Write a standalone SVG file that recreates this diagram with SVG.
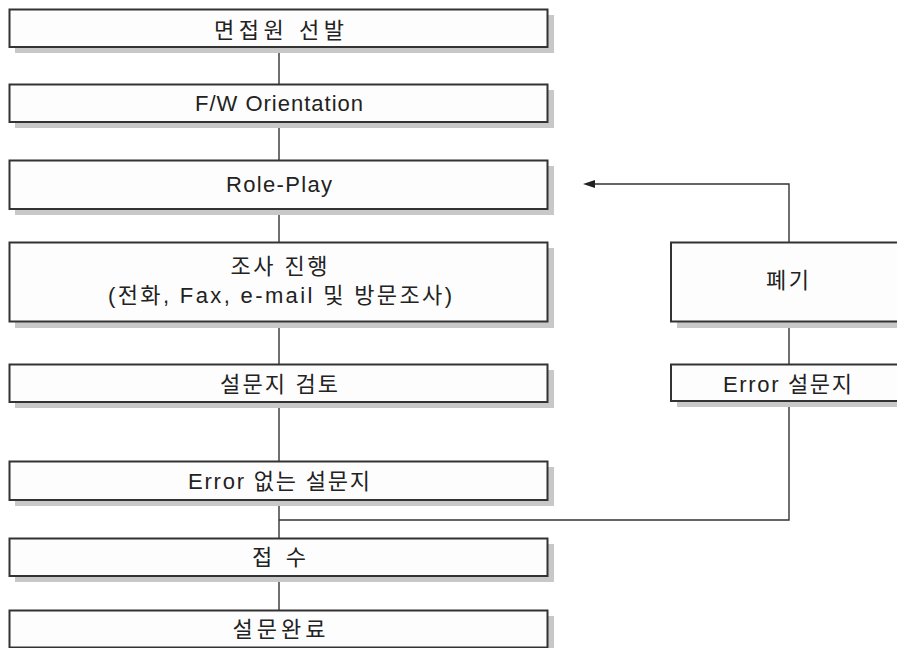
<svg xmlns="http://www.w3.org/2000/svg" width="897" height="648" viewBox="0 0 897 648">
<style>
.sh{fill:#c8c8c8}
.bx{fill:#fdfdfd;stroke:#333;stroke-width:2}
.t{font-family:"Liberation Sans","Noto Sans CJK KR",sans-serif;font-size:22px;fill:#222;text-anchor:middle}
.ln{fill:none;stroke:#333;stroke-width:1.4}
</style>
<g id="connectors">
<line class="ln" x1="279" y1="47" x2="279" y2="84"/>
<line class="ln" x1="279" y1="122" x2="279" y2="160"/>
<line class="ln" x1="279" y1="209" x2="279" y2="242"/>
<line class="ln" x1="279" y1="322" x2="279" y2="364"/>
<line class="ln" x1="279" y1="402" x2="279" y2="461"/>
<line class="ln" x1="279" y1="500" x2="279" y2="538"/>
<line class="ln" x1="279" y1="576" x2="279" y2="610"/>
<line class="ln" x1="789" y1="322" x2="789" y2="364"/>
<polyline class="ln" points="789,401 789,520 279,520"/>
<polyline class="ln" points="789,242 789,184 594,184"/>
<path d="M583,184 L595,180 L595,188 Z" fill="#222"/>
</g>
<g id="n1"><rect class="sh" x="15" y="15" width="539" height="38"/><rect class="bx" x="9.5" y="9.5" width="538" height="37.5"/><text class="t" x="279" y="37.5" textLength="130" lengthAdjust="spacing">면접원 선발</text></g>
<g id="n2"><rect class="sh" x="15" y="90" width="539" height="38"/><rect class="bx" x="9.5" y="84.5" width="538" height="37.5"/><text class="t" x="279" y="111" textLength="168" lengthAdjust="spacing">F/W Orientation</text></g>
<g id="n3"><rect class="sh" x="15" y="166" width="539" height="49"/><rect class="bx" x="9.5" y="160.5" width="538" height="48.5"/><text class="t" x="279" y="192" textLength="106" lengthAdjust="spacing">Role-Play</text></g>
<g id="n4"><rect class="sh" x="15" y="248" width="539" height="80"/><rect class="bx" x="9.5" y="242.5" width="538" height="79"/><text class="t" x="279" y="273.5" textLength="97" lengthAdjust="spacing">조사 진행</text><text class="t" x="280" y="302.5" textLength="344" lengthAdjust="spacing">(전화, Fax, e-mail 및 방문조사)</text></g>
<g id="n5"><rect class="sh" x="15" y="370" width="539" height="38"/><rect class="bx" x="9.5" y="364.5" width="538" height="37.5"/><text class="t" x="279" y="391.5" textLength="118" lengthAdjust="spacing">설문지 검토</text></g>
<g id="n6"><rect class="sh" x="15" y="467" width="539" height="39"/><rect class="bx" x="9.5" y="461.5" width="538" height="38.5"/><text class="t" x="279" y="488.5" textLength="182" lengthAdjust="spacing">Error 없는 설문지</text></g>
<g id="n7"><rect class="sh" x="15" y="544" width="539" height="38"/><rect class="bx" x="9.5" y="538.5" width="538" height="37.5"/><text class="t" x="279" y="565" textLength="54" lengthAdjust="spacing">접수</text></g>
<g id="n8"><rect class="sh" x="15" y="616" width="539" height="38"/><rect class="bx" x="9.5" y="610.5" width="538" height="37"/><text class="t" x="279" y="636.5" textLength="93" lengthAdjust="spacing">설문완료</text></g>
<g id="n9"><rect class="sh" x="677" y="248" width="230" height="80"/><rect class="bx" x="671" y="242.5" width="240" height="79"/><text class="t" x="787.5" y="288" textLength="43" lengthAdjust="spacing">폐기</text></g>
<g id="n10"><rect class="sh" x="677" y="370" width="230" height="37"/><rect class="bx" x="671" y="364.5" width="240" height="36.5"/><text class="t" x="787.5" y="391.5" textLength="129" lengthAdjust="spacing">Error 설문지</text></g>
</svg>
